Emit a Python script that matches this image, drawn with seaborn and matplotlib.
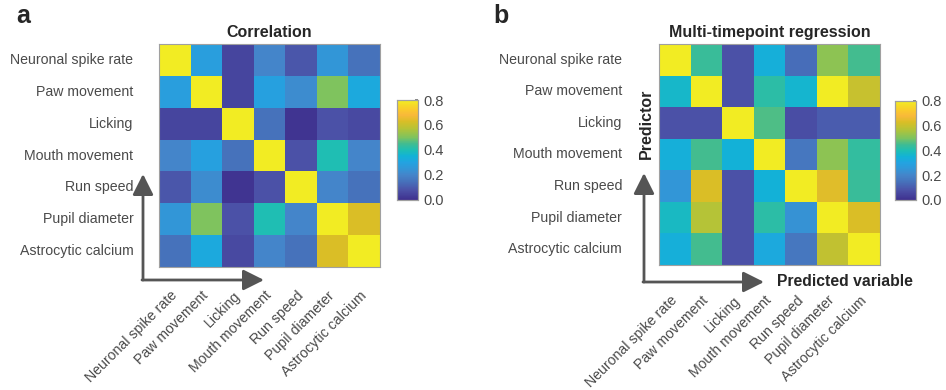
import numpy as np
import pandas as pd
import matplotlib
matplotlib.use("Agg")
import matplotlib.pyplot as plt
import seaborn as sns
from matplotlib.colors import LinearSegmentedColormap

# ---------------- data ----------------
variables = ["Neuronal spike rate", "Paw movement", "Licking", "Mouth movement",
             "Run speed", "Pupil diameter", "Astrocytic calcium"]

corr_values = [
    [1.00, 0.28, 0.05, 0.20, 0.09, 0.25, 0.15],
    [0.28, 1.00, 0.05, 0.29, 0.22, 0.50, 0.32],
    [0.05, 0.05, 1.00, 0.15, 0.01, 0.08, 0.06],
    [0.20, 0.29, 0.15, 1.00, 0.08, 0.40, 0.20],
    [0.09, 0.22, 0.01, 0.08, 1.00, 0.20, 0.15],
    [0.25, 0.50, 0.08, 0.40, 0.20, 1.00, 0.63],
    [0.15, 0.32, 0.06, 0.20, 0.15, 0.63, 1.00],
]

regression_values = [
    [1.00, 0.44, 0.08, 0.34, 0.14, 0.52, 0.45],
    [0.37, 1.00, 0.08, 0.42, 0.36, 0.80, 0.60],
    [0.08, 0.08, 1.00, 0.46, 0.07, 0.10, 0.10],
    [0.34, 0.45, 0.35, 1.00, 0.16, 0.52, 0.43],
    [0.25, 0.63, 0.08, 0.35, 1.00, 0.64, 0.44],
    [0.38, 0.57, 0.08, 0.42, 0.24, 1.00, 0.63],
    [0.34, 0.45, 0.08, 0.32, 0.16, 0.59, 1.00],
]

cbar_ticks = [0.0, 0.2, 0.4, 0.6, 0.8]

# ---------------- style ----------------
sns.set_theme(style="white")
plt.rcParams["font.family"] = ["Liberation Sans", "DejaVu Sans"]

anchors = [
    (0.00, (62, 48, 142)),
    (0.08, (75, 82, 168)),
    (0.15, (70, 115, 188)),
    (0.20, (68, 133, 202)),
    (0.25, (50, 150, 215)),
    (0.30, (35, 163, 225)),
    (0.35, (18, 178, 215)),
    (0.40, (30, 190, 180)),
    (0.45, (65, 188, 145)),
    (0.50, (125, 195, 95)),
    (0.57, (180, 195, 55)),
    (0.63, (218, 190, 38)),
    (0.68, (248, 185, 58)),
    (0.72, (250, 200, 45)),
    (0.80, (242, 236, 35)),
]
cmap = LinearSegmentedColormap.from_list(
    "parula_like", [(v / 0.8, tuple(c / 255 for c in rgb)) for v, rgb in anchors])

W, H = 946, 390
fig = plt.figure(figsize=(W / 100, H / 100), dpi=100)


def fbox(x0, y0, x1, y1):
    return [x0 / W, 1 - y1 / H, (x1 - x0) / W, (y1 - y0) / H]


def fpt(x, y):
    return (x / W, 1 - y / H)


label_color = "#4a4a4a"
arrow_color = "#555555"


def draw_panel(values, hm_box, cb_box, title, ypad, xpad):
    ax = fig.add_axes(fbox(*hm_box))
    cax = fig.add_axes(fbox(*cb_box))
    df = pd.DataFrame(values, index=variables, columns=variables)
    sns.heatmap(df, ax=ax, cmap=cmap, vmin=0, vmax=0.8, cbar_ax=cax,
                cbar_kws={"ticks": cbar_ticks}, linewidths=0)
    for s in ax.spines.values():
        s.set_visible(True)
        s.set_color("#a0a0a0")
        s.set_linewidth(0.8)
    ax.tick_params(axis="both", which="both", direction="in", length=3,
                   width=0.6, color="#777777", top=True, right=True,
                   labelsize=10.2, labelcolor=label_color)
    ax.tick_params(axis="y", pad=ypad)
    ax.tick_params(axis="x", pad=xpad)
    ax.set_yticklabels(variables, rotation=0)
    ax.set_xticklabels(variables, rotation=45, ha="right", va="center",
                       rotation_mode="anchor")
    ax.set_xlabel("")
    ax.set_ylabel("")
    ax.set_title(title, fontsize=11.5, fontweight="bold", pad=5)
    cax.tick_params(labelsize=10.5, labelcolor=label_color, length=2,
                    direction="in", color="#777777", pad=4)
    cax.yaxis.set_major_formatter(matplotlib.ticker.FormatStrFormatter("%.1f"))
    for s in cax.spines.values():
        s.set_visible(True)
        s.set_color("#a0a0a0")
        s.set_linewidth(0.8)
    return ax


draw_panel(corr_values, (159, 44, 380, 267), (397, 100, 418, 200), "Correlation",
           ypad=18.5, xpad=19)
draw_panel(regression_values, (659, 44, 880, 265), (895, 101, 916, 200),
           "Multi-timepoint regression", ypad=26.5, xpad=24)


def arrow(x0, y0, x1, y1):
    fig.add_artist(matplotlib.patches.FancyArrowPatch(
        fpt(x0, y0), fpt(x1, y1), transform=fig.transFigure,
        arrowstyle="-|>,head_length=0.9,head_width=0.45", mutation_scale=14,
        color=arrow_color, lw=2, shrinkA=0, shrinkB=0))


arrow(143, 280, 143, 174)
arrow(142, 280, 264, 280)
arrow(644, 282, 644, 173)
arrow(643, 282, 764, 282)

fig.text(*fpt(646, 124), "Predictor", rotation=90, ha="center", va="center",
         fontsize=11.5, fontweight="bold")
fig.text(*fpt(777, 281), "Predicted variable", ha="left", va="center",
         fontsize=11.3, fontweight="bold")

fig.text(*fpt(16, 16), "a", ha="left", va="center", fontsize=18, fontweight="bold")
fig.text(*fpt(493, 16), "b", ha="left", va="center", fontsize=18, fontweight="bold")

fig.savefig("out.png", dpi=100)
